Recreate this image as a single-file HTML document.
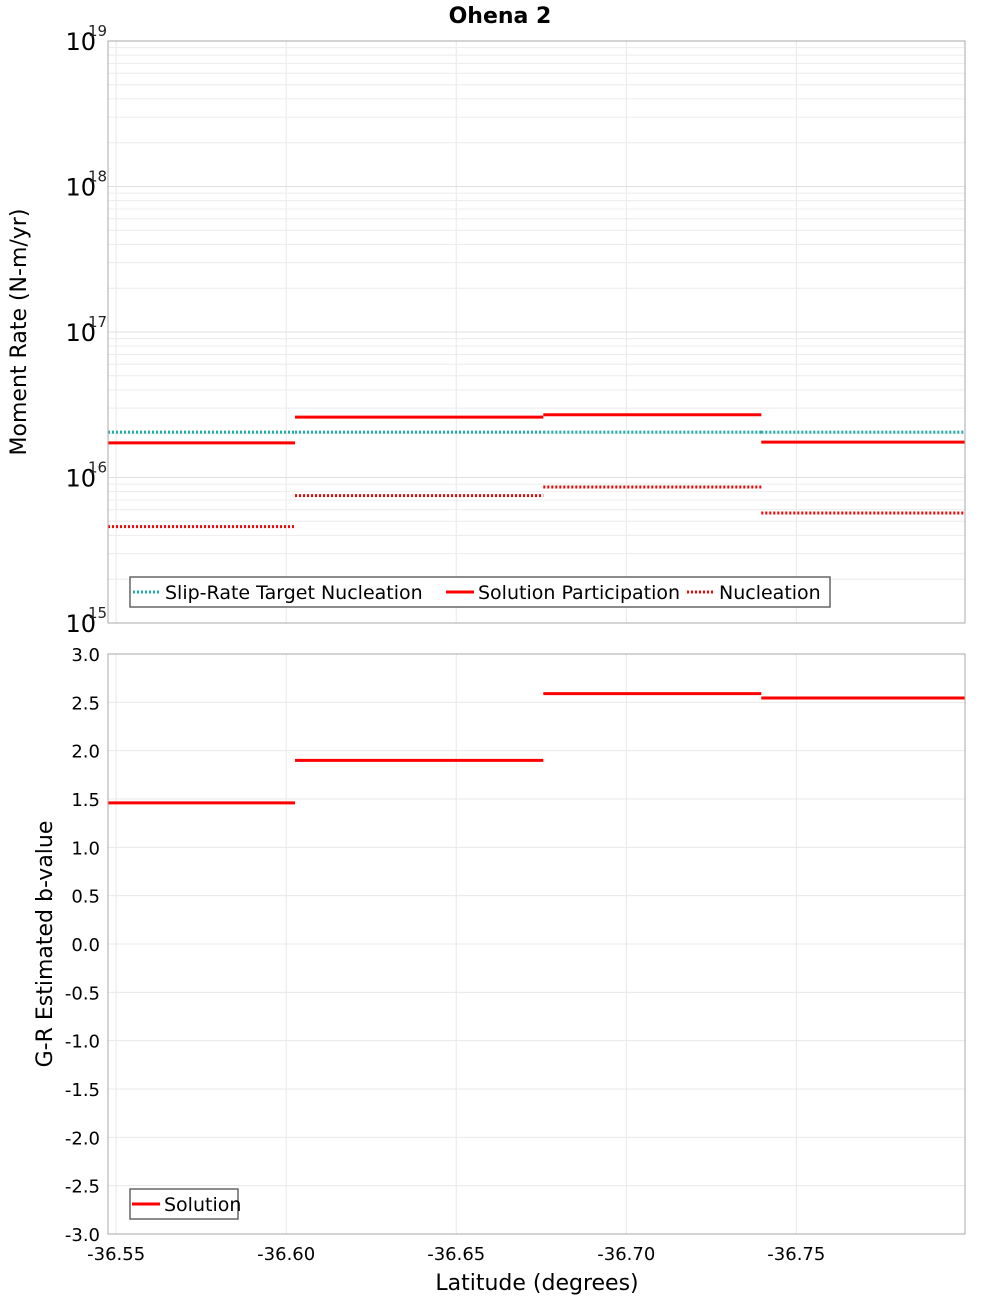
<!DOCTYPE html>
<html><head><meta charset="utf-8"><style>
body{margin:0;background:#fff;font-family:"DejaVu Sans","Liberation Sans",sans-serif;}
svg text{font-family:"DejaVu Sans","Liberation Sans",sans-serif;}
</style></head><body>
<svg id="chart" width="1000" height="1300" xmlns="http://www.w3.org/2000/svg">
<text x="500" y="23" text-anchor="middle" font-size="22" font-weight="bold">Ohena 2</text>
<g id="topPanel"></g>
<g id="botPanel"></g>
<text transform="translate(26,332) rotate(-90)" text-anchor="middle" font-size="22">Moment Rate (N-m/yr)</text>
<text transform="translate(52,944) rotate(-90)" text-anchor="middle" font-size="22">G-R Estimated b-value</text>
<text x="537" y="1290" text-anchor="middle" font-size="22">Latitude (degrees)</text>
</svg>
<script>
const segStarts = [-36.5476, -36.6026, -36.6756, -36.7397];
const segEnds = [-36.6026, -36.6756, -36.7397, -36.7996];
const targetNucleation = [2.05e16, 2.05e16, 2.05e16, 2.05e16];
const solutionParticipation = [1.73e16, 2.6e16, 2.7e16, 1.75e16];
const nucleation = [4.6e15, 7.5e15, 8.6e15, 5.7e15];
const bValues = [1.46, 1.90, 2.59, 2.545];
const xTicks = [-36.55, -36.60, -36.65, -36.70, -36.75];
const xTickLabels = ["-36.55", "-36.60", "-36.65", "-36.70", "-36.75"];
const logDecades = [15, 16, 17, 18, 19];
const bTicks = [3.0, 2.5, 2.0, 1.5, 1.0, 0.5, 0.0, -0.5, -1.0, -1.5, -2.0, -2.5, -3.0];

const NS = "http://www.w3.org/2000/svg";
const L = 108, R = 965, xMin = -36.5476, xMax = -36.7996;
const T1 = 41, B1 = 623, T2 = 654, B2 = 1234;
const xs = v => L + (v - xMin) / (xMax - xMin) * (R - L);
const yLog = v => B1 - (Math.log10(v) - 15) / 4 * (B1 - T1);
const yB = v => B2 - (v + 3) / 6 * (B2 - T2);
function mk(parent, tag, attrs) {
  const e = document.createElementNS(NS, tag);
  for (const k in attrs) e.setAttribute(k, attrs[k]);
  parent.appendChild(e); return e;
}
const gTop = document.getElementById('topPanel'), gBot = document.getElementById('botPanel');

[[gTop, T1, B1], [gBot, T2, B2]].forEach(([g, t, b]) => {
  xTicks.forEach(v => {
    const ln = mk(g, 'line', {x1: xs(v), x2: xs(v), y1: t, y2: b, stroke: '#e8e8e8', 'stroke-width': 1});
    
    
  });
});
for (let d = 15; d < 19; d++) {
  for (let m = 1; m <= 9; m++) {
    const y = yLog(m * Math.pow(10, d));
    const ln = mk(gTop, 'line', {x1: L, x2: R, y1: y, y2: y, stroke: m === 1 ? '#e0e0e0' : '#ececec', 'stroke-width': 1});
    
    
  }
}
logDecades.forEach(d => {
  const y = yLog(Math.pow(10, d));
  const t = mk(gTop, 'text', {x: 96, y: y + 9, 'text-anchor': 'end', 'font-size': 24});
  t.textContent = '10';
  
  
  const s = mk(gTop, 'text', {x: 88, y: y - 5, 'font-size': 15, fill: '#222'});
  s.textContent = String(d);
  
  
});
bTicks.forEach(v => {
  const y = yB(v);
  const ln = mk(gBot, 'line', {x1: L, x2: R, y1: y, y2: y, stroke: '#e8e8e8', 'stroke-width': 1});
  
  
  const t = mk(gBot, 'text', {x: 100, y: y + 7, 'text-anchor': 'end', 'font-size': 18});
  t.textContent = v.toFixed(1);
  
  
});
xTicks.forEach((v, i) => {
  const t = mk(gBot, 'text', {x: xs(v), y: 1260, 'text-anchor': 'middle', 'font-size': 18});
  t.textContent = xTickLabels[i];
  
  
});
function seg(g, vals, yf, color, dash, name) {
  vals.forEach((v, i) => {
    const a = {x1: xs(segStarts[i]), x2: xs(segEnds[i]), y1: yf(v), y2: yf(v), stroke: color, 'stroke-width': 3};
    if (dash) a['stroke-dasharray'] = '2,2';
    const ln = mk(g, 'line', a);
    
    
  });
}
seg(gTop, targetNucleation, yLog, '#1aadad', true, 'target-nucleation-segment');
seg(gTop, solutionParticipation, yLog, '#ff0000', false, 'solution-participation-segment');
seg(gTop, nucleation, yLog, '#ff0000', true, 'nucleation-segment');
seg(gBot, bValues, yB, '#ff0000', false, 'b-value-segment');
[[gTop, T1, B1], [gBot, T2, B2]].forEach(([g, t, b]) => {
  const r = mk(g, 'rect', {x: L, y: t, width: R - L, height: b - t, fill: 'none', stroke: '#aaa', 'stroke-width': 1});
  
  
});
function legend(g, x, y, w, items) {
  const lg = mk(g, 'g', {});
  
  
  const r = mk(lg, 'rect', {x: x, y: y, width: w, height: 30, fill: '#fff', stroke: '#666', 'stroke-width': 1.5});
  
  
  items.forEach(it => {
    const a = {x1: it.x, x2: it.x + 28, y1: y + 15, y2: y + 15, stroke: it.c, 'stroke-width': 3};
    if (it.d) a['stroke-dasharray'] = '2,2';
    const ln = mk(lg, 'line', a);
    
    
    const t = mk(lg, 'text', {x: it.x + 32, y: y + 22, 'font-size': 19});
    t.textContent = it.t;
    
    
  });
}
legend(gTop, 130, 577, 700, [
  {x: 133, c: '#1aadad', d: true, t: 'Slip-Rate Target Nucleation'},
  {x: 446, c: '#ff0000', d: false, t: 'Solution Participation'},
  {x: 687, c: '#ff0000', d: true, t: 'Nucleation'}]);
legend(gBot, 130, 1189, 108, [{x: 132, c: '#ff0000', d: false, t: 'Solution'}]);
</script>
</body></html>
